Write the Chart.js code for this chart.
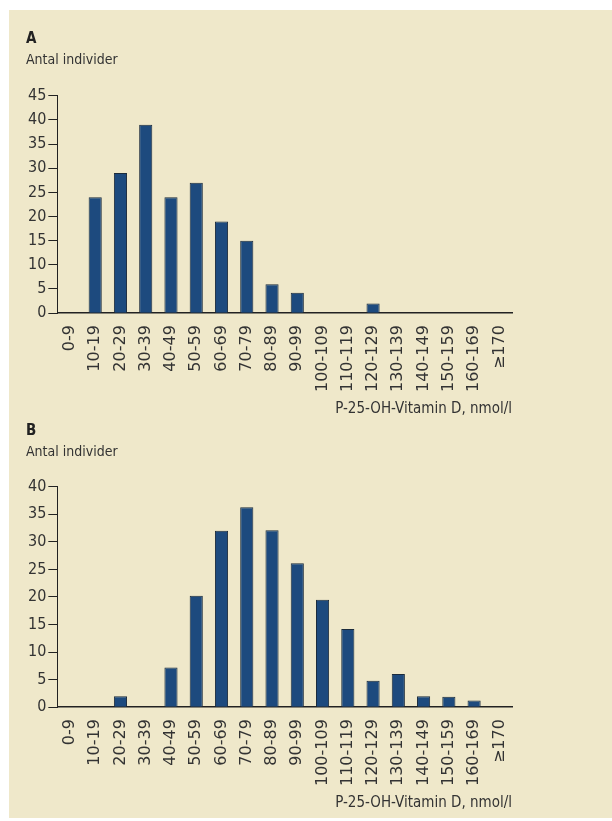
<!DOCTYPE html>
<html>
<head>
<meta charset="utf-8">
<script src="https://cdn.jsdelivr.net/npm/chart.js@4"></script>
<style>
    body { margin: 0; background: #fff; }
    #panel {
        position: absolute; left: 9px; top: 10px;
        width: 603px; height: 808px; background: #EFE8CA;
    }
    .box { position: absolute; left: 0; width: 603px; }
</style>
</head>
<body>
<div id="panel">
    <div class="box" style="top:0"><canvas id="chartA"></canvas></div>
    <div class="box" style="top:408px"><canvas id="chartB"></canvas></div>
</div>
<script>
/* ================= DATA ================= */
const categories = ["0-9", "10-19", "20-29", "30-39", "40-49", "50-59", "60-69", "70-79",
    "80-89", "90-99", "100-109", "110-119", "120-129", "130-139", "140-149",
    "150-159", "160-169", "\u2265170"];

const countsA = [0, 24, 29, 39, 24, 27, 19, 15, 6, 4.2, 0, 0, 2, 0, 0, 0, 0, 0];
const countsB = [0, 0, 2, 0, 7.2, 20.2, 32, 36.3, 32.1, 26.1, 19.5, 14.2, 4.8, 6, 2, 1.9, 1.2, 0];

const yMaxA = 45;
const yMaxB = 40;

const panelTitleA = "A";
const panelTitleB = "B";
const yTitle = "Antal individer";
const xTitle = "P-25-OH-Vitamin D, nmol/l";

/* ================= HELPERS ================= */
const FONT = "'DejaVu Sans Condensed', 'Liberation Sans', sans-serif";
const TICK_FONT = "'DejaVu Sans', sans-serif";
const TEXT = "#333333";
const AXIS = "#222222";

function makeChart(el, title, data, yMax, pad) {
    return new Chart(el, {
        type: "bar",
        data: {
            labels: categories,
            datasets: [{
                data: data,
                backgroundColor: "#1D4A7E",
                borderColor: "#1B2B3C",
                borderWidth: 1,
                barPercentage: 0.52,
                categoryPercentage: 1
            }]
        },
        options: {
            responsive: false,
            animation: false,
            layout: { padding: { left: 17, right: 100, top: pad.top, bottom: pad.bottom } },
            plugins: {
                legend: { display: false },
                tooltip: { enabled: false },
                title: {
                    display: true,
                    text: title,
                    align: "start",
                    color: "#222",
                    font: { family: FONT, size: 15, weight: "bold" },
                    padding: { top: 0, bottom: 4 }
                },
                subtitle: {
                    display: true,
                    text: yTitle,
                    align: "start",
                    color: TEXT,
                    font: { family: FONT, size: 14 },
                    padding: { top: 0, bottom: pad.sub }
                }
            },
            scales: {
                x: {
                    grid: { display: false },
                    border: { display: true, color: AXIS, width: 1.5 },
                    ticks: {
                        minRotation: 90, maxRotation: 90, autoSkip: false,
                        color: TEXT, padding: 4,
                        font: { family: TICK_FONT, size: 16 }
                    },
                    title: {
                        display: true, text: xTitle, align: "end",
                        color: TEXT, padding: { top: 4, bottom: 0 },
                        font: { family: FONT, size: 15 }
                    }
                },
                y: {
                    min: 0, max: yMax,
                    grid: { drawOnChartArea: false, tickLength: 9, color: AXIS, tickWidth: 1 },
                    border: { display: true, color: AXIS, width: 1 },
                    ticks: {
                        stepSize: 5, autoSkip: false, color: TEXT, padding: 2,
                        font: { family: FONT, size: 16 }
                    }
                }
            }
        }
    });
}

/* ================= CHARTS ================= */
const elA = document.getElementById("chartA");
const elB = document.getElementById("chartB");
elA.width = 603; elA.height = 408;
elB.width = 603; elB.height = 398;

makeChart(elA, panelTitleA, countsA, yMaxA, { top: 20, bottom: 0, sub: 27 });
makeChart(elB, panelTitleB, countsB, yMaxB, { top: 4, bottom: 4, sub: 26 });
</script>
</body>
</html>
